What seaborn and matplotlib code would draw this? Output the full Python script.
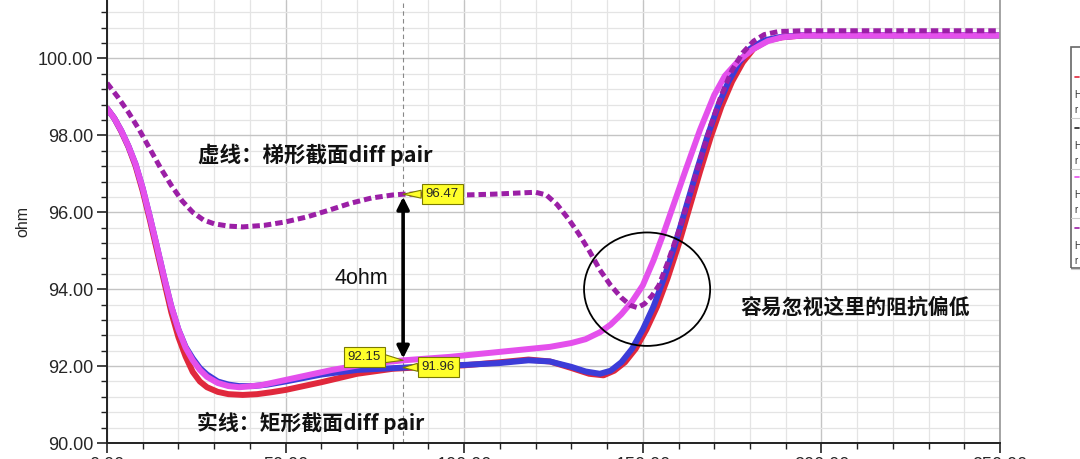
import numpy as np
import pandas as pd
import matplotlib
matplotlib.use('Agg')
import matplotlib.pyplot as plt
import seaborn as sns
from matplotlib.patches import Ellipse, Rectangle
from matplotlib.lines import Line2D
from matplotlib.ticker import MultipleLocator

# ---- data (x: time, y: impedance in ohm) ----
red_x = [0, 2, 4, 6, 8, 10, 12, 14, 16, 18, 20, 22, 24, 26, 28, 31, 34, 38, 42, 46, 50, 60,
         70, 80, 90, 100, 110, 118, 124, 130, 135, 139, 142, 145, 148, 151, 154, 157, 160,
         163, 166, 169, 172, 175, 178, 181, 185, 189, 195, 210, 230, 250]
red_y = [98.7, 98.45, 98.1, 97.7, 97.2, 96.55, 95.8, 95.0, 94.2, 93.4, 92.75, 92.25, 91.85,
         91.6, 91.45, 91.33, 91.27, 91.25, 91.27, 91.32, 91.38, 91.58, 91.8, 91.93, 91.98,
         92.02, 92.1, 92.17, 92.12, 91.95, 91.8, 91.76, 91.88, 92.1, 92.45, 92.95, 93.55,
         94.3, 95.15, 96.1, 97.05, 97.95, 98.75, 99.4, 99.9, 100.25, 100.47, 100.55, 100.6,
         100.6, 100.6, 100.6]

blue_x = [0, 2, 4, 6, 8, 10, 12, 14, 16, 18, 20, 22, 24, 26, 28, 31, 34, 37, 41, 45, 50, 60,
          70, 83, 90, 100, 110, 118, 124, 130, 134, 138, 141, 144, 147, 150, 153, 156, 159,
          162, 165, 168, 171, 174, 177, 180, 184, 188, 194, 210, 230, 250]
blue_y = [98.7, 98.45, 98.12, 97.72, 97.25, 96.62, 95.88, 95.1, 94.3, 93.55, 92.95, 92.5,
          92.2, 91.95, 91.78, 91.6, 91.52, 91.48, 91.48, 91.52, 91.6, 91.78, 91.9, 91.96,
          92.0, 92.03, 92.08, 92.15, 92.12, 91.98, 91.86, 91.8, 91.88, 92.1, 92.45, 92.95,
          93.55, 94.3, 95.15, 96.1, 97.05, 97.95, 98.75, 99.4, 99.9, 100.25, 100.47, 100.55,
          100.6, 100.6, 100.6, 100.6]

pink_x = [0, 2, 4, 6, 8, 10, 12, 14, 16, 18, 20, 22, 24, 26, 28, 31, 34, 37, 43, 50, 63, 73,
          83, 96, 110, 124, 130, 134, 138, 141, 144, 147, 150, 153, 156, 159, 162, 166, 170,
          173, 177, 181, 185, 189, 195, 210, 230, 250]
pink_y = [98.7, 98.45, 98.12, 97.72, 97.25, 96.62, 95.88, 95.1, 94.3, 93.55, 92.95, 92.48,
          92.15, 91.9, 91.72, 91.56, 91.48, 91.45, 91.5, 91.64, 91.9, 92.06, 92.15, 92.24,
          92.37, 92.5, 92.6, 92.7, 92.88, 93.08, 93.35, 93.68, 94.1, 94.75, 95.5, 96.3,
          97.1, 98.14, 99.05, 99.55, 99.96, 100.25, 100.45, 100.55, 100.6, 100.6, 100.6,
          100.6]

dash_x = [0, 3, 6, 9, 12, 15, 18, 21, 24, 27, 30, 34, 38, 44, 50, 56, 62, 68, 74, 80, 83, 90,
          100, 108, 115, 120, 123, 126, 129, 132, 135, 138, 141, 144, 146.5, 148.5, 150.5,
          152.5, 154.5, 157, 160, 163, 166, 169, 172, 175, 178, 181, 184, 188, 195, 210, 230,
          250]
dash_y = [99.36, 99.0, 98.6, 98.15, 97.65, 97.15, 96.7, 96.3, 96.0, 95.8, 95.7, 95.64, 95.62,
          95.66, 95.75, 95.88, 96.05, 96.23, 96.37, 96.45, 96.47, 96.47, 96.45, 96.47, 96.5,
          96.52, 96.45, 96.2, 95.85, 95.45, 95.0, 94.5, 94.1, 93.78, 93.58, 93.52, 93.62,
          93.82, 94.1, 94.7, 95.5, 96.4, 97.35, 98.25, 99.05, 99.7, 100.15, 100.45, 100.62,
          100.7, 100.72, 100.72, 100.72, 100.72]

marker_x = 82.9
marker_vals = {'dash': 96.47, 'pink': 92.15, 'blue': 91.96}

sns.set_theme(style='white')
plt.rcParams['font.family'] = ['Liberation Sans', 'DejaVu Sans']
cjk = ['Noto Sans CJK SC', 'DejaVu Sans']

fig = plt.figure(figsize=(10.8, 4.59), dpi=100)
ax = fig.add_axes([107 / 1080, 16 / 459, 893 / 1080, 443 / 459])

line_kw = dict(ax=ax, sort=False, estimator=None, solid_capstyle='round',
               solid_joinstyle='round')
sns.lineplot(x=red_x, y=red_y, color='#e0283c', linewidth=4.3, **line_kw)
sns.lineplot(x=blue_x, y=blue_y, color='#3c3cd8', linewidth=4.3, **line_kw)
sns.lineplot(x=pink_x, y=pink_y, color='#e450ec', linewidth=4.3, **line_kw)
sns.lineplot(x=dash_x, y=dash_y, ax=ax, color='#9b1fa6', linewidth=3.6, sort=False,
             estimator=None, linestyle=(0, (1.5, 0.8)))

ax.set_xlim(0, 250)
ax.set_ylim(90, 101.52)
ax.xaxis.set_major_locator(MultipleLocator(50))
ax.xaxis.set_minor_locator(MultipleLocator(10))
ax.yaxis.set_major_locator(MultipleLocator(2))
ax.yaxis.set_minor_locator(MultipleLocator(0.4))
ax.xaxis.set_major_formatter(lambda v, p: f'{v:.2f}')
ax.yaxis.set_major_formatter(lambda v, p: f'{v:.2f}')
ax.grid(which='minor', color='#e4e4e4', linewidth=0.9)
ax.grid(which='major', color='#c4c4c4', linewidth=1.0)
ax.set_axisbelow(True)
ax.tick_params(which='major', direction='out', length=7, width=1.2, color='#222222',
               labelsize=13, pad=3, left=True, bottom=True)
ax.tick_params(which='minor', direction='out', length=4, width=1.0, color='#222222',
               left=True, bottom=True)
for s in ['left', 'bottom']:
    ax.spines[s].set_color('#222222')
    ax.spines[s].set_linewidth(1.4)
ax.spines['top'].set_visible(False)
ax.spines['right'].set_color('#999999')
ax.set_xlabel('')
ax.set_ylabel('ohm', fontsize=11.5, labelpad=5)

# cursor line and markers
ax.axvline(marker_x, color='#888888', linestyle=(0, (4, 3)), linewidth=0.8, zorder=1)
ax.annotate('', xy=(marker_x, 92.2), xytext=(marker_x, 96.4),
            arrowprops=dict(arrowstyle='<|-|>', color='black', lw=2.6,
                            mutation_scale=18, shrinkA=0, shrinkB=0))

box = dict(boxstyle='square,pad=0.3', fc='#ffff2a', ec='#7a7a00', lw=0.8)
wedge = dict(arrowstyle='wedge,tail_width=0.6', fc='#ffff2a', ec='#7a7a00', lw=0.8,
             shrinkA=0, shrinkB=0)
ax.annotate(f"{marker_vals['dash']:.2f}", xy=(marker_x, marker_vals['dash']),
            xytext=(93.8, 96.47), fontsize=9.5, ha='center', va='center', bbox=box,
            arrowprops=wedge, zorder=6)
ax.annotate(f"{marker_vals['pink']:.2f}", xy=(marker_x, marker_vals['pink']),
            xytext=(72.0, 92.24), fontsize=9.5, ha='center', va='center', bbox=box,
            arrowprops=wedge, zorder=6)
ax.annotate(f"{marker_vals['blue']:.2f}", xy=(marker_x, marker_vals['blue']),
            xytext=(92.8, 91.98), fontsize=9.5, ha='center', va='center', bbox=box,
            arrowprops=wedge, zorder=6)

# circle around the dip
ax.add_patch(Ellipse((151.2, 94.0), 35.3, 2.95, fill=False, ec='black', lw=1.3, zorder=5))

ax.text(58.2, 97.49, '虚线：梯形截面diff pair', fontsize=15.5, family=cjk,
        fontweight='bold', ha='center', va='center', color='#111111')
ax.text(56.9, 90.52, '实线：矩形截面diff pair', fontsize=15, family=cjk,
        fontweight='bold', ha='center', va='center', color='#111111')
ax.text(71.1, 94.29, '4ohm', fontsize=15.5, ha='center', va='center', color='#111111')
ax.text(209.5, 93.54, '容易忽视这里的阻抗偏低', fontsize=15, family=cjk,
        fontweight='bold', ha='center', va='center', color='#111111')

# legend panel cut off at the right edge
fig.add_artist(Rectangle((1071 / 1080, 1 - 268 / 459), 0.05, 221 / 459,
                         transform=fig.transFigure, fill=False, ec='#666666', lw=1.2))
leg_colors = ['#e0283c', '#222222', '#e450ec', '#9b1fa6']
leg_top = [77, 128, 177, 228]
for c, t in zip(leg_colors, leg_top):
    fig.add_artist(Line2D([1075 / 1080, 1079 / 1080], [1 - t / 459] * 2,
                          transform=fig.transFigure, color=c, lw=1.2))
    fig.text(1074 / 1080, 1 - (t + 18) / 459, 'H', fontsize=7, va='center', color='#333333')
    fig.text(1074 / 1080, 1 - (t + 33) / 459, 'r', fontsize=7, va='center', color='#333333')
    fig.add_artist(Line2D([1071 / 1080, 1], [1 - (t + 41) / 459] * 2,
                          transform=fig.transFigure, color='#cccccc', lw=0.8))

fig.savefig('out.png', dpi=100)
